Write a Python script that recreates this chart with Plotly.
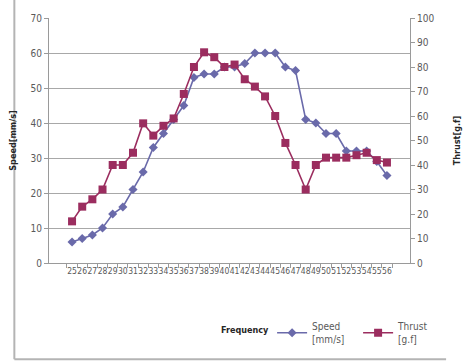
import plotly.graph_objects as go

# Frequency steps (x categories)
frequency = [str(f) for f in range(25, 57)]

# Speed in mm/s (left axis)
speed = [6, 7, 8, 10, 14, 16, 21, 26, 33, 37, 41, 45, 53, 54, 54, 56,
         56, 57, 60, 60, 60, 56, 55, 41, 40, 37, 37, 32, 32, 32, 29, 25]

# Thrust in g.f (right axis)
thrust = [17, 23, 26, 30, 40, 40, 45, 57, 52, 56, 59, 69, 80, 86, 84, 80,
          81, 75, 72, 68, 60, 49, 40, 30, 40, 43, 43, 43, 44, 45, 42, 41]

SPEED_COLOR = "#6A6AAA"
THRUST_COLOR = "#9B2D5F"
AXIS_GRAY = "#9A9A9A"
TEXT_GRAY = "#595959"
FONT = "DejaVu Sans Condensed, Liberation Sans Narrow, Liberation Sans, sans-serif"

fig = go.Figure()
fig.add_trace(go.Scatter(
    x=frequency, y=speed, name="Speed<br>[mm/s]", mode="lines+markers",
    line=dict(color=SPEED_COLOR, width=1.6),
    marker=dict(symbol="diamond", size=7, color=SPEED_COLOR),
    yaxis="y",
))
fig.add_trace(go.Scatter(
    x=frequency, y=thrust, name="Thrust<br>[g.f]", mode="lines+markers",
    line=dict(color=THRUST_COLOR, width=1.6),
    marker=dict(symbol="square", size=8, color=THRUST_COLOR),
    yaxis="y2",
))

fig.update_layout(
    width=473, height=364,
    margin=dict(l=43, r=34, t=18, b=99),
    paper_bgcolor="white", plot_bgcolor="white",
    font=dict(family=FONT, size=10, color=TEXT_GRAY),
    xaxis=dict(
        type="category", tickmode="array", tickvals=frequency, ticktext=frequency,
        tickson="boundaries", ticks="outside", ticklen=4,
        tickcolor=AXIS_GRAY, showline=True, linecolor=AXIS_GRAY, linewidth=1,
        showgrid=False, tickfont=dict(size=8.5, color=TEXT_GRAY), tickangle=0,
    ),
    yaxis=dict(
        range=[0, 70], dtick=10, ticks="outside", ticklen=4, tickcolor=AXIS_GRAY,
        showline=True, linecolor=AXIS_GRAY, linewidth=1,
        showgrid=True, gridcolor="#A8A8A8", gridwidth=1, zeroline=False,
        tickfont=dict(size=10, color=TEXT_GRAY),
        title=dict(text="<b>Speed[mm/s]</b>", font=dict(size=9, color="#262626"), standoff=12),
    ),
    yaxis2=dict(
        range=[0, 100], dtick=10, overlaying="y", side="right",
        ticks="outside", ticklen=4, tickcolor=AXIS_GRAY,
        showline=True, linecolor=AXIS_GRAY, linewidth=1,
        showgrid=False, zeroline=False,
        tickfont=dict(size=10, color=TEXT_GRAY),
        title=dict(text="<b>Thrust[g.f]</b>", font=dict(size=9, color="#262626"), standoff=20),
    ),
    legend=dict(
        orientation="h", x=0.618, y=-0.205, xanchor="left", yanchor="top",
        font=dict(size=10, color=TEXT_GRAY), entrywidth=41, itemwidth=30,
        bgcolor="rgba(0,0,0,0)",
    ),
    showlegend=True,
    annotations=[dict(
        text="<b>Frequency</b>", xref="paper", yref="paper",
        x=0.542, y=-0.275, xanchor="center", yanchor="middle", showarrow=False,
        font=dict(size=9, color="#262626"),
    )],
    shapes=[
        dict(type="line", xref="paper", yref="paper", x0=-0.096, x1=-0.096,
             y0=-0.393, y1=1.1, line=dict(color="#B4B4B4", width=2)),
        dict(type="line", xref="paper", yref="paper", x0=-0.096, x1=1.1,
             y0=-0.393, y1=-0.393, line=dict(color="#B4B4B4", width=2)),
    ],
)

fig.write_html("out.html")
